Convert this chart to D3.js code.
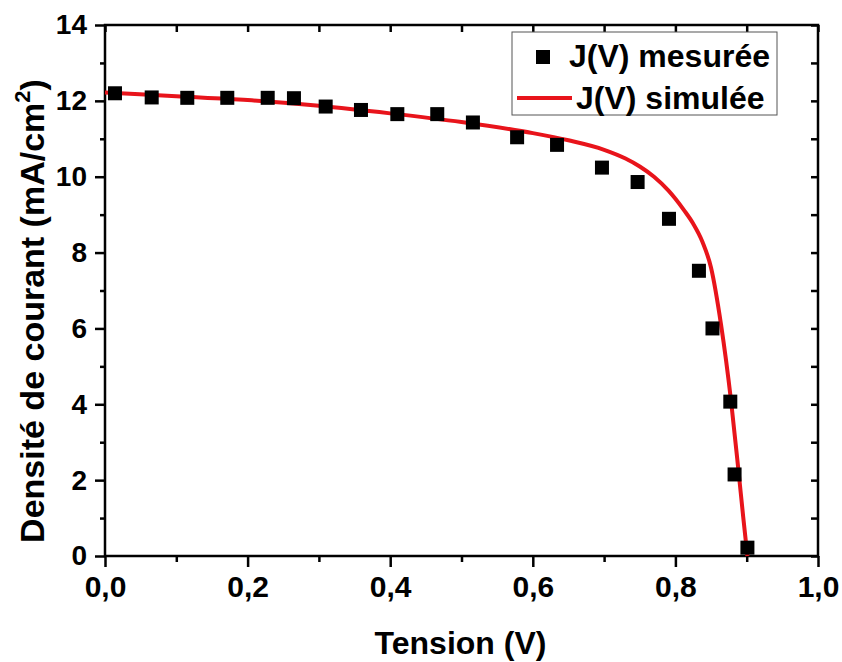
<!DOCTYPE html>
<html>
<head>
<meta charset="utf-8">
<script src="https://cdn.jsdelivr.net/npm/d3@7"></script>
<style>
  html, body { margin: 0; padding: 0; background: #ffffff; }
  svg { display: block; }
  text { font-family: "Liberation Sans", Arial, sans-serif; font-weight: bold; fill: #000; }
</style>
</head>
<body>
<div id="chart"></div>
<script>
// Measured J(V) points (tension in V, current density in mA/cm²)
const measuredV = [0.014, 0.0655, 0.1154, 0.1715, 0.2282, 0.265, 0.3095, 0.359, 0.410, 0.466, 0.516,
                   0.578, 0.634, 0.697, 0.747, 0.791, 0.833, 0.852, 0.877, 0.883, 0.901];
const measuredJ = [12.20, 12.09, 12.08, 12.08, 12.08, 12.07, 11.85, 11.76, 11.65, 11.65, 11.43,
                   11.04, 10.84, 10.24, 9.86, 8.89, 7.52, 6.00, 4.07, 2.15, 0.22];

// Simulated J(V) curve
const simulatedV = [0.000, 0.100, 0.200, 0.300, 0.400, 0.500, 0.600, 0.650, 0.700, 0.730, 0.750,
                    0.770, 0.790, 0.800, 0.812, 0.825, 0.838, 0.850, 0.864, 0.878, 0.889, 0.895, 0.901];
const simulatedJ = [12.22, 12.12, 12.02, 11.87, 11.67, 11.44, 11.15, 10.96, 10.71, 10.48, 10.27,
                    10.00, 9.64, 9.42, 9.12, 8.76, 8.28, 7.60, 6.10, 4.10, 2.15, 1.05, 0.00];

// Axis ticks
const xMajorTicks = [0.0, 0.2, 0.4, 0.6, 0.8, 1.0];
const xMinorTicks = [0.1, 0.3, 0.5, 0.7, 0.9];
const yMajorTicks = [0, 2, 4, 6, 8, 10, 12, 14];
const yMinorTicks = [1, 3, 5, 7, 9, 11, 13];

const seriesNames = ["J(V) mesurée", "J(V) simulée"];
const xTitle = "Tension (V)";

const W = 842, H = 662;
const margin = { top: 25, right: 24, bottom: 106, left: 105 };
const iw = W - margin.left - margin.right;
const ih = H - margin.top - margin.bottom;

const svg = d3.select("#chart").append("svg").attr("width", W).attr("height", H);
const g = svg.append("g").attr("transform", `translate(${margin.left},${margin.top})`);

const x = d3.scaleLinear().domain([0, 1]).range([0, iw]);
const y = d3.scaleLinear().domain([0, 14]).range([ih, 0]);

const fmt = d => d3.format(".1f")(d).replace(".", ",");

function styleAxis(sel) {
  sel.select(".domain").remove();
  sel.selectAll(".tick line").attr("stroke", "#000").attr("stroke-width", 2.5);
}
function styleLabels(size) {
  return s => s.selectAll("text").attr("font-size", size)
    .style("font-family", "Liberation Sans, Arial, sans-serif").style("font-weight", "bold");
}

// Bottom axis: outward ticks with labels
g.append("g").attr("transform", `translate(0,${ih})`)
  .call(d3.axisBottom(x).tickValues(xMajorTicks).tickSize(11).tickPadding(9).tickFormat(fmt))
  .call(styleAxis).call(styleLabels(30));
g.append("g").attr("transform", `translate(0,${ih})`)
  .call(d3.axisBottom(x).tickValues(xMinorTicks).tickSize(6).tickFormat(""))
  .call(styleAxis);

// Left axis: outward ticks with labels
g.append("g")
  .call(d3.axisLeft(y).tickValues(yMajorTicks).tickSize(10).tickPadding(8).tickFormat(d3.format("d")))
  .call(styleAxis).call(styleLabels(28));
g.append("g")
  .call(d3.axisLeft(y).tickValues(yMinorTicks).tickSize(5).tickFormat(""))
  .call(styleAxis);

// Top and right mirror axes: inward ticks, no labels
g.append("g")
  .call(d3.axisBottom(x).tickValues(xMajorTicks.concat(xMinorTicks)).tickSize(7).tickFormat(""))
  .call(styleAxis);
g.append("g").attr("transform", `translate(${iw},0)`)
  .call(d3.axisLeft(y).tickValues(yMajorTicks.concat(yMinorTicks)).tickSize(7).tickFormat(""))
  .call(styleAxis);

// Frame
g.append("rect").attr("x", 0).attr("y", 0).attr("width", iw).attr("height", ih)
  .attr("fill", "none").attr("stroke", "#000").attr("stroke-width", 2.5);

// Simulated curve
const simData = simulatedV.map((v, i) => ({ v, j: simulatedJ[i] }));
g.append("path").datum(simData)
  .attr("fill", "none").attr("stroke", "#e8141b").attr("stroke-width", 4)
  .attr("stroke-linejoin", "round")
  .attr("d", d3.line().x(d => x(d.v)).y(d => y(d.j)).curve(d3.curveMonotoneX));

// Measured points
const sq = 14;
const measData = measuredV.map((v, i) => ({ v, j: measuredJ[i] }));
g.append("g").selectAll("rect").data(measData).join("rect")
  .attr("x", d => x(d.v) - sq / 2).attr("y", d => y(d.j) - sq / 2)
  .attr("width", sq).attr("height", sq).attr("fill", "#000");

// Axis titles
svg.append("text").attr("x", margin.left + iw / 2 - 1).attr("y", 654)
  .attr("text-anchor", "middle").attr("font-size", 32).text(xTitle);

const yt = svg.append("text").attr("transform", "translate(44,311) rotate(-90)")
  .attr("text-anchor", "middle").attr("font-size", 34);
yt.append("tspan").text("Densité de courant (mA/cm");
yt.append("tspan").attr("font-size", 22).attr("dy", -14).text("2");
yt.append("tspan").attr("dy", 14).text(")");

// Legend
const lg = svg.append("g");
lg.append("rect").attr("x", 512).attr("y", 32).attr("width", 265).attr("height", 83)
  .attr("fill", "#fff").attr("stroke", "#555").attr("stroke-width", 1);
lg.append("rect").attr("x", 543 - sq / 2).attr("y", 57 - sq / 2).attr("width", sq).attr("height", sq).attr("fill", "#000");
lg.append("text").attr("x", 569).attr("y", 67).attr("font-size", 32).text(seriesNames[0]);
lg.append("line").attr("x1", 517).attr("x2", 572).attr("y1", 98).attr("y2", 98)
  .attr("stroke", "#e8141b").attr("stroke-width", 4);
lg.append("text").attr("x", 576).attr("y", 109).attr("font-size", 32).text(seriesNames[1]);
</script>
</body>
</html>
